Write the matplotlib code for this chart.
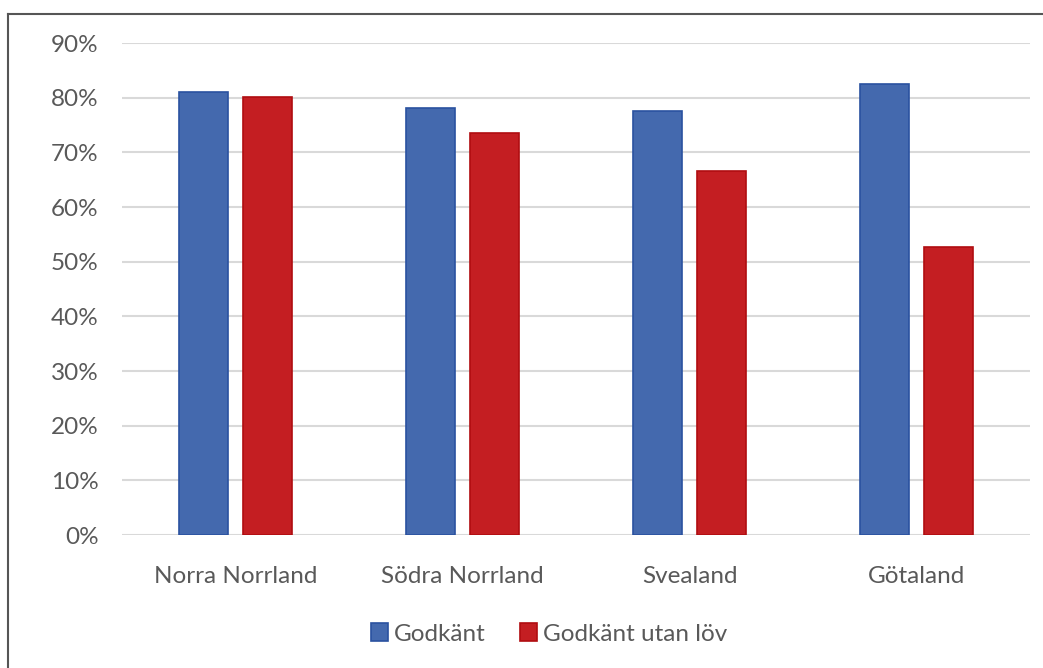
import numpy as np
import matplotlib.pyplot as plt
from matplotlib.lines import Line2D
from matplotlib.ticker import PercentFormatter

# regions and shares (percent)
regioner = ["Norra Norrland", "Södra Norrland", "Svealand", "Götaland"]
godkant = [81.0, 78.1, 77.6, 82.5]
godkant_utan_lov = [80.1, 73.5, 66.6, 52.7]

plt.rcParams['font.family'] = ['Lato', 'DejaVu Sans']
textfarg = "#595959"

fig = plt.figure(figsize=(10.43, 6.68), dpi=100)
ax = fig.add_axes([122/1043, 1 - 535/668, 908/1043, (535 - 43)/668])

x = np.arange(len(regioner))
w = 0.22
off = 0.141
ax.bar(x - off, godkant, w, color="#4469ae", edgecolor="#2a52a0", linewidth=1.2,
       label="Godkänt", zorder=3)
ax.bar(x + off, godkant_utan_lov, w, color="#c41e22", edgecolor="#b00d10", linewidth=1.2,
       label="Godkänt utan löv", zorder=3)

ax.set_xlim(-0.5, 3.5)
ax.set_ylim(0, 90)
ax.set_yticks(np.arange(0, 91, 10))
ax.yaxis.set_major_formatter(PercentFormatter(decimals=0))
ax.grid(axis="y", color="#d9d9d9", linewidth=1.5, zorder=0)
ax.set_xticks(x)
ax.set_xticklabels(regioner)
ax.tick_params(length=0, labelsize=17.5, colors=textfarg)
ax.tick_params(axis="y", pad=17)
ax.tick_params(axis="x", pad=22)
for s in ax.spines.values():
    s.set_visible(False)

leg = fig.legend(loc="center", bbox_to_anchor=(549/1043, 1 - 634/668), ncol=2,
                 frameon=False, fontsize=17.5, handlelength=0.7, handleheight=0.7,
                 handletextpad=0.25, columnspacing=1.4)
for t in leg.get_texts():
    t.set_color(textfarg)

# outer frame: top and left edges only
fig.add_artist(Line2D([8/1043, 1], [1 - 14/668] * 2, color="#555555", linewidth=1.5))
fig.add_artist(Line2D([8/1043] * 2, [0, 1 - 14/668], color="#555555", linewidth=1.5))

fig.savefig("out.png", dpi=100)
